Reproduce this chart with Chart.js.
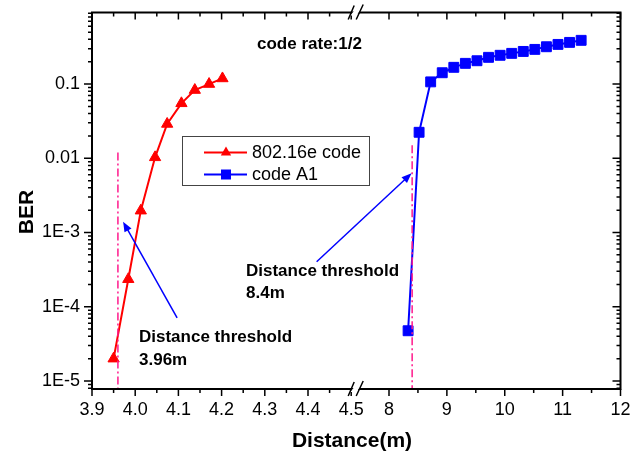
<!DOCTYPE html>
<html>
<head>
<meta charset="utf-8">
<script src="https://cdn.jsdelivr.net/npm/chart.js@4.4.1/dist/chart.umd.min.js"></script>
<style>
  html, body { margin: 0; padding: 0; background: #fff; }
  #wrap { width: 630px; height: 455px; }
</style>
</head>
<body>
<div id="wrap"><canvas id="berChart"></canvas></div>
<script>
// 802.16e code
const distA = [3.95, 3.984, 4.013, 4.046, 4.074, 4.107, 4.138, 4.171, 4.202];
const berA = [2.0e-5, 2.35e-4, 1.97e-3, 0.0103, 0.029, 0.055, 0.083, 0.1, 0.119];
// code A1
const distB = [8.33, 8.52, 8.72, 8.92, 9.12, 9.32, 9.52, 9.72, 9.92, 10.12, 10.32, 10.52, 10.72, 10.92, 11.12, 11.32];
const berB = [4.75e-5, 0.0224, 0.107, 0.142, 0.168, 0.190, 0.206, 0.229, 0.244, 0.259, 0.275, 0.293, 0.318, 0.342, 0.364, 0.388];

const seriesNames = ['802.16e code', 'code A1'];

// broken x axis: 3.9-4.5 then 8-12
const xLowTicks = [3.9, 4.0, 4.1, 4.2, 4.3, 4.4, 4.5];
const xLowMinor = [3.95, 4.05, 4.15, 4.25, 4.35, 4.45];
const xHighTicks = [8, 9, 10, 11, 12];
const xHighMinor = [8.5, 9.5, 10.5, 11.5];
const yTicks = [1e-5, 1e-4, 1e-3, 0.01, 0.1];
const yTickLabels = ['1E-5', '1E-4', '1E-3', '0.01', '0.1'];

// threshold markers (x, top of line)
const thresholdX = [3.96, 8.4];
const thresholdTop = [0.012, 0.015];

const FONT = "'Liberation Sans', Arial, sans-serif";
const PINK = '#ff1a8c';

const yMinor = [];
[1e-6, 1e-5, 1e-4, 1e-3, 0.01, 0.1].forEach(d => {
  for (let m = 2; m <= 9; m++) yMinor.push(m * d);
});

function pts(xs, ys) {
  return xs.map((x, i) => ({ x: x, y: ys[i] }));
}

// keep label overhang from shrinking the plot area
function noPad(sc) {
  sc.paddingTop = 0;
  sc.paddingBottom = 0;
  sc.paddingLeft = 0;
  sc.paddingRight = 0;
}

function arrow(ctx, x1, y1, x2, y2) {
  const a = Math.atan2(y2 - y1, x2 - x1);
  const len = 10, hw = 4;
  ctx.beginPath();
  ctx.moveTo(x1, y1);
  ctx.lineTo(x2 - Math.cos(a) * len * 0.8, y2 - Math.sin(a) * len * 0.8);
  ctx.stroke();
  ctx.beginPath();
  ctx.moveTo(x2, y2);
  ctx.lineTo(x2 - Math.cos(a) * len - Math.sin(a) * hw, y2 - Math.sin(a) * len + Math.cos(a) * hw);
  ctx.lineTo(x2 - Math.cos(a) * len + Math.sin(a) * hw, y2 - Math.sin(a) * len - Math.cos(a) * hw);
  ctx.closePath();
  ctx.fill();
}

const decorPlugin = {
  id: 'decor',
  afterDatasetsDraw(chart) {
    const { ctx, chartArea: ca, scales } = chart;
    const xa = scales.xa, xb = scales.xb, y = scales.y;
    ctx.save();

    // threshold lines
    ctx.strokeStyle = PINK;
    ctx.lineWidth = 1.5;
    ctx.setLineDash([8, 3, 2, 3]);
    [xa, xb].forEach((sc, i) => {
      const px = sc.getPixelForValue(thresholdX[i]);
      ctx.beginPath();
      ctx.moveTo(px, y.getPixelForValue(thresholdTop[i]));
      ctx.lineTo(px, ca.bottom);
      ctx.stroke();
    });
    ctx.setLineDash([]);

    // arrows to the thresholds
    ctx.strokeStyle = '#0000ff';
    ctx.fillStyle = '#0000ff';
    ctx.lineWidth = 1.5;
    arrow(ctx, xa.getPixelForValue(4.097), y.getPixelForValue(7.1e-5),
      xa.getPixelForValue(3.972), y.getPixelForValue(1.4e-3));
    arrow(ctx, xa.getPixelForValue(4.42), y.getPixelForValue(4.04e-4),
      xb.getPixelForValue(8.39), y.getPixelForValue(6.27e-3));

    // frame
    ctx.strokeStyle = '#000';
    ctx.lineWidth = 2;
    ctx.strokeRect(ca.left, ca.top, ca.right - ca.left, ca.bottom - ca.top);

    // tick marks: bottom/left outward, top/right inward
    ctx.lineWidth = 1.5;
    const xTick = (px, len) => {
      ctx.beginPath();
      ctx.moveTo(px, ca.bottom); ctx.lineTo(px, ca.bottom + len);
      ctx.moveTo(px, ca.top); ctx.lineTo(px, ca.top + len);
      ctx.stroke();
    };
    const yTick = (py, len) => {
      ctx.beginPath();
      ctx.moveTo(ca.left, py); ctx.lineTo(ca.left - len, py);
      ctx.moveTo(ca.right, py); ctx.lineTo(ca.right - len, py);
      ctx.stroke();
    };
    xLowTicks.forEach(v => xTick(xa.getPixelForValue(v), 7));
    xLowMinor.forEach(v => xTick(xa.getPixelForValue(v), 4));
    xHighTicks.forEach(v => xTick(xb.getPixelForValue(v), 7));
    xHighMinor.forEach(v => xTick(xb.getPixelForValue(v), 4));
    yTicks.forEach(v => yTick(y.getPixelForValue(v), 8));
    yMinor.filter(v => v > y.min && v < y.max).forEach(v => yTick(y.getPixelForValue(v), 4));

    // axis break marks
    const bx = xa.right + 4;
    [ca.top, ca.bottom].forEach(by => {
      ctx.fillStyle = '#fff';
      ctx.beginPath();
      ctx.moveTo(bx - 5, by + 3); ctx.lineTo(bx, by - 3);
      ctx.lineTo(bx + 6, by - 3); ctx.lineTo(bx + 1, by + 3);
      ctx.closePath();
      ctx.fill();
      ctx.strokeStyle = '#000';
      ctx.lineWidth = 1.5;
      ctx.beginPath();
      ctx.moveTo(bx - 7, by + 7); ctx.lineTo(bx - 1, by - 7);
      ctx.moveTo(bx + 1, by + 7); ctx.lineTo(bx + 8, by - 8);
      ctx.stroke();
    });

    // annotations
    ctx.fillStyle = '#000';
    ctx.font = 'bold 17px ' + FONT;
    ctx.textAlign = 'left';
    ctx.textBaseline = 'alphabetic';
    ctx.fillText('code rate:1/2', 257, 49);
    ctx.fillText('Distance threshold', 139, 342);
    ctx.fillText('3.96m', 139, 365);
    ctx.fillText('Distance threshold', 246, 276);
    ctx.fillText('8.4m', 246, 298);

    // legend
    const lx = 182.5, ly = 136.5, lw = 187, lh = 49;
    ctx.strokeStyle = '#444';
    ctx.lineWidth = 1;
    ctx.strokeRect(lx, ly, lw, lh);
    const items = [
      { color: '#ff0000', style: 'triangle' },
      { color: '#0000ff', style: 'rect' }
    ];
    ctx.font = '18px ' + FONT;
    items.forEach((it, i) => {
      const ry = 152.5 + i * 22;
      ctx.strokeStyle = it.color;
      ctx.fillStyle = it.color;
      ctx.lineWidth = 2;
      ctx.beginPath();
      ctx.moveTo(204, ry); ctx.lineTo(247, ry);
      ctx.stroke();
      ctx.beginPath();
      if (it.style === 'triangle') {
        ctx.moveTo(226, ry - 6); ctx.lineTo(231.2, ry + 3); ctx.lineTo(220.8, ry + 3);
        ctx.closePath();
      } else {
        ctx.rect(221, ry - 5, 10, 10);
      }
      ctx.fill();
      ctx.fillStyle = '#000';
      ctx.textBaseline = 'middle';
      ctx.fillText(seriesNames[i], 252, ry + 1);
    });

    // axis titles
    ctx.font = 'bold 21px ' + FONT;
    ctx.textAlign = 'center';
    ctx.textBaseline = 'alphabetic';
    ctx.fillText('Distance(m)', 352, 447);
    ctx.translate(33, 212);
    ctx.rotate(-Math.PI / 2);
    ctx.fillText('BER', 0, 0);
    ctx.restore();
  }
};

const tickFont = { family: FONT, size: 18 };

const ctx = document.getElementById('berChart').getContext('2d');
new Chart(ctx, {
  type: 'line',
  data: {
    datasets: [
      {
        label: seriesNames[0],
        data: pts(distA, berA),
        xAxisID: 'xa',
        yAxisID: 'y',
        borderColor: '#ff0000',
        backgroundColor: '#ff0000',
        borderWidth: 2,
        pointStyle: 'triangle',
        pointRadius: 6.5,
        pointBorderWidth: 1,
        tension: 0,
      },
      {
        label: seriesNames[1],
        data: pts(distB, berB),
        xAxisID: 'xb',
        yAxisID: 'y',
        borderColor: '#0000ff',
        backgroundColor: '#0000ff',
        borderWidth: 2,
        pointStyle: 'rect',
        pointRadius: 7,
        pointBorderWidth: 1,
        tension: 0,
      },
    ],
  },
  options: {
    responsive: true,
    maintainAspectRatio: false,
    animation: false,
    layout: { padding: { top: 12.5, right: 9.5, left: 0, bottom: 0 } },
    plugins: {
      legend: { display: false },
      tooltip: { enabled: false },
    },
    scales: {
      xa: {
        type: 'linear',
        position: 'bottom',
        stack: 'dist',
        stackWeight: 259.2,
        min: 3.9,
        max: 4.5,
        grid: { display: false, drawTicks: false },
        border: { display: false },
        afterBuildTicks: sc => { sc.ticks = xLowTicks.map(v => ({ value: v })); },
        afterFit: sc => { sc.height = 66; noPad(sc); },
        ticks: {
          autoSkip: false,
          maxRotation: 0,
          padding: 10,
          color: '#000',
          font: tickFont,
          callback: v => Number(v).toFixed(1),
        },
      },
      xgap: {
        type: 'linear',
        position: 'bottom',
        stack: 'dist',
        stackWeight: 37.8,
        min: 0,
        max: 1,
        grid: { display: false, drawTicks: false },
        border: { display: false },
        ticks: { display: false },
        afterFit: sc => { sc.height = 66; noPad(sc); },
      },
      xb: {
        type: 'linear',
        position: 'bottom',
        stack: 'dist',
        stackWeight: 231.5,
        min: 8,
        max: 12,
        grid: { display: false, drawTicks: false },
        border: { display: false },
        afterBuildTicks: sc => { sc.ticks = xHighTicks.map(v => ({ value: v })); },
        afterFit: sc => { sc.height = 66; noPad(sc); },
        ticks: {
          autoSkip: false,
          maxRotation: 0,
          padding: 10,
          color: '#000',
          font: tickFont,
          callback: v => String(v),
        },
      },
      y: {
        type: 'logarithmic',
        position: 'left',
        min: 7.8e-6,
        max: 0.92,
        grid: { display: false, drawTicks: false },
        border: { display: false },
        afterBuildTicks: sc => { sc.ticks = yTicks.map(v => ({ value: v })); },
        afterFit: sc => { sc.width = 92; noPad(sc); },
        ticks: {
          autoSkip: false,
          padding: 12,
          color: '#000',
          font: tickFont,
          callback: v => yTickLabels[yTicks.indexOf(v)],
        },
      },
    },
  },
  plugins: [decorPlugin],
});
</script>
</body>
</html>
